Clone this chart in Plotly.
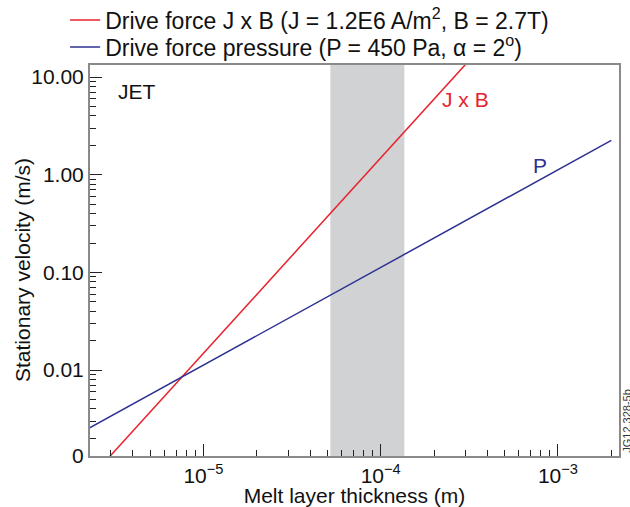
import math
import plotly.graph_objects as go

# ---- data ----
thickness_jxb = [2.5e-6, 3.0e-4]          # m
velocity_jxb = [9.3e-4, 13.4]             # m/s
thickness_p = [2.0e-6, 2.0e-3]            # m
velocity_p = [2.25e-3, 2.25]              # m/s
band_thickness = [5.2e-5, 1.36e-4]        # shaded melt-layer range (m)

x_range = [2.29e-6, 2.21e-3]
y_range = [1.32e-3, 13.3]

x_tick_vals = [1e-5, 1e-4, 1e-3]
x_tick_text = ["10<sup>\u22125</sup>", "10<sup>\u22124</sup>", "10<sup>\u22123</sup>"]
y_tick_vals = [1.335e-3, 0.01, 0.1, 1, 10]
y_tick_text = ["0", "0.01", "0.10", "1.00", "10.00"]

x_decades = [1e-6, 1e-5, 1e-4, 1e-3]
y_decades = [1e-3, 1e-2, 1e-1, 1]
minor_steps = [2, 3, 4, 5, 6, 7, 8, 9]

RED = "#e8222d"
BLUE = "#2e3192"
FONT = "Liberation Sans, Arial, Helvetica, sans-serif"
FS = 21
LFS = 23

x_minor = [d * m for d in x_decades for m in minor_steps if x_range[0] < d * m < x_range[1]]
y_minor = [d * m for d in y_decades for m in minor_steps if y_range[0] < d * m < y_range[1]]

fig = go.Figure()

# shaded band
fig.add_trace(go.Scatter(
    x=[band_thickness[0], band_thickness[1], band_thickness[1], band_thickness[0], band_thickness[0]],
    y=[y_range[0] * 0.5, y_range[0] * 0.5, y_range[1] * 2, y_range[1] * 2, y_range[0] * 0.5],
    fill="toself", fillcolor="#d1d2d4", mode="lines", line=dict(width=0),
    showlegend=False, hoverinfo="skip"))

fig.add_trace(go.Scatter(
    x=thickness_jxb, y=velocity_jxb, mode="lines",
    line=dict(color=RED, width=1.5), legend="legend",
    name="Drive force J x B (J = 1.2E6 A/m<sup>2</sup>, B = 2.7T)"))
fig.add_trace(go.Scatter(
    x=thickness_p, y=velocity_p, mode="lines",
    line=dict(color=BLUE, width=1.5), legend="legend2",
    name="Drive force pressure (P = 450 Pa, \u03b1 = 2<sup>o</sup>)"))

axis_common = dict(
    showline=True, linecolor="#8a8a8a", linewidth=2, mirror=True,
    ticks="inside", ticklen=12, tickwidth=1.3, tickcolor="#222",
    showgrid=False, zeroline=False,
    tickfont=dict(family=FONT, size=FS, color="#111"),
)

fig.update_xaxes(
    type="log", range=[math.log10(x_range[0]), math.log10(x_range[1])],
    tickmode="array", tickvals=x_tick_vals, ticktext=x_tick_text,
    minor=dict(tickmode="array", tickvals=x_minor, ticks="inside", ticklen=6,
               tickwidth=1.3, tickcolor="#222", showgrid=False),
    title=dict(text="Melt layer thickness (m)", font=dict(family=FONT, size=FS, color="#111"),
               standoff=2),
    **axis_common)
fig.update_yaxes(
    type="log", range=[math.log10(y_range[0]), math.log10(y_range[1])],
    tickmode="array", tickvals=y_tick_vals, ticktext=y_tick_text,
    minor=dict(tickmode="array", tickvals=y_minor, ticks="inside", ticklen=6,
               tickwidth=1.3, tickcolor="#222", showgrid=False),
    **axis_common)

fig.add_annotation(xref="paper", yref="paper", x=-0.1276, y=0.477, xanchor="center", yanchor="middle",
                   text="Stationary velocity (m/s)", textangle=-90, showarrow=False,
                   font=dict(family=FONT, size=FS, color="#111"))
fig.add_annotation(xref="paper", yref="paper", x=0.05, y=0.933, xanchor="left", yanchor="middle",
                   text="JET", showarrow=False, font=dict(family=FONT, size=FS, color="#111"))
fig.add_annotation(xref="paper", yref="paper", x=0.709, y=0.913, xanchor="center", yanchor="middle",
                   text="J x B", showarrow=False, font=dict(family=FONT, size=FS, color=RED))
fig.add_annotation(xref="paper", yref="paper", x=0.851, y=0.744, xanchor="center", yanchor="middle",
                   text="P", showarrow=False, font=dict(family=FONT, size=FS, color=BLUE))
fig.add_annotation(xref="paper", yref="paper", x=1.015, y=0.09, xanchor="center", yanchor="middle",
                   text="JG12.328-5b", textangle=-90, showarrow=False,
                   font=dict(family=FONT, size=11, color="#333"))

legend_common = dict(xanchor="left", yanchor="middle", bgcolor="rgba(0,0,0,0)",
                     font=dict(family=FONT, size=LFS, color="#111"), itemwidth=30)

fig.update_layout(
    width=630, height=507,
    margin=dict(l=90, r=11, t=65, b=51, autoexpand=False),
    paper_bgcolor="white", plot_bgcolor="white",
    font=dict(family=FONT, size=FS, color="#111"),
    showlegend=True,
    legend=dict(x=-0.047, y=1.115, **legend_common),
    legend2=dict(x=-0.047, y=1.046, **legend_common),
)

fig.write_html("out.html", config={"displayModeBar": False},
               post_script="document.body.style.margin='0px';document.body.style.padding='0px';")
